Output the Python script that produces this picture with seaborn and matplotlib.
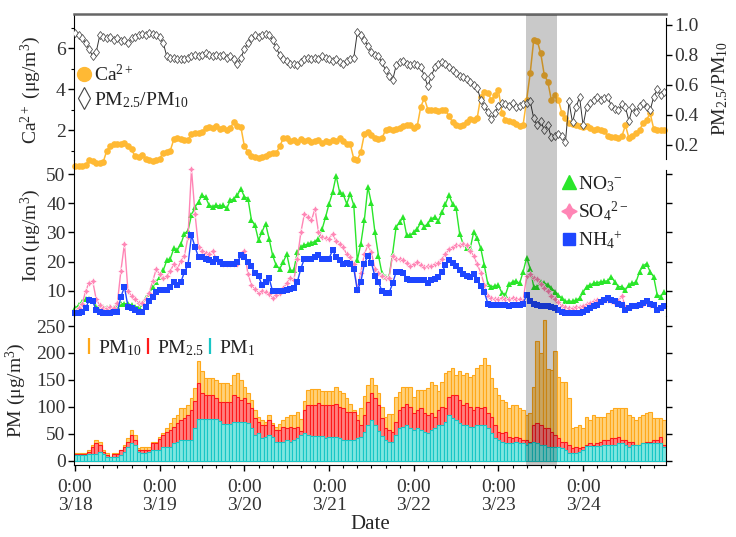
import numpy as np
import pandas as pd
import matplotlib.pyplot as plt
import matplotlib.patches as mpatches
import matplotlib.transforms as mtransforms
from matplotlib.lines import Line2D
import seaborn as sns

# ---------------- data (hourly, 3/18 0:00 .. 3/24 23:00) ----------------
days = ["3/18", "3/19", "3/20", "3/21", "3/22", "3/23", "3/24"]
hours = np.arange(168)
haze = (127.9, 136.6)  # shaded episode, in hours

ca = [0.26, 0.26, 0.26, 0.28, 0.54, 0.50, 0.40, 0.37, 0.45, 1.00, 1.20, 1.34, 1.30, 1.34, 1.36, 1.20, 1.05, 0.72, 0.70, 0.80, 0.60, 0.55, 0.50, 0.55,
      0.60, 0.90, 0.95, 1.00, 1.55, 1.60, 1.58, 1.50, 1.52, 1.80, 1.85, 1.83, 1.88, 2.10, 2.15, 2.12, 2.18, 2.05, 2.08, 2.00, 2.10, 2.39, 2.20, 2.15,
      1.20, 0.95, 0.75, 0.70, 0.65, 0.70, 0.75, 0.85, 0.90, 0.88, 1.20, 1.59, 1.60, 1.45, 1.50, 1.40, 1.55, 1.45, 1.50, 1.40, 1.45, 1.50, 1.35, 1.45,
      1.40, 1.50, 1.45, 1.59, 1.45, 1.34, 1.30, 0.60, 0.54, 0.94, 1.80, 1.90, 1.75, 1.60, 1.58, 1.60, 2.00, 2.05, 2.00, 2.05, 2.10, 2.20, 2.23, 2.25,
      2.10, 2.20, 3.14, 3.55, 3.00, 2.98, 3.00, 2.95, 3.00, 2.98, 2.66, 2.40, 2.25, 2.20, 2.25, 2.40, 2.56, 2.50, 2.60, 3.63, 3.87, 3.80, 3.47, 3.70,
      3.96, 2.82, 2.50, 2.45, 2.40, 2.30, 2.20, 2.25, 3.47, 4.76, 6.39, 6.35, 5.74, 4.68, 4.36, 3.47, 3.72, 3.47, 2.82, 2.60, 2.33, 2.30, 2.25, 2.20,
      2.15, 2.20, 2.10, 2.00, 2.05, 2.00, 1.95, 1.70, 1.65, 1.67, 1.60, 1.70, 2.23, 1.60, 1.70, 1.83, 2.00, 2.33, 2.50, 2.82, 2.07, 2.00, 2.00, 2.00]

ratio = [0.945, 0.93, 0.91, 0.88, 0.84, 0.79, 0.82, 0.93, 0.92, 0.91, 0.92, 0.90, 0.91, 0.89, 0.90, 0.88, 0.91, 0.92, 0.93, 0.94, 0.93, 0.945, 0.94, 0.93,
         0.92, 0.88, 0.79, 0.78, 0.78, 0.77, 0.77, 0.77, 0.78, 0.79, 0.80, 0.79, 0.80, 0.81, 0.80, 0.79, 0.80, 0.79, 0.80, 0.78, 0.79, 0.77, 0.74, 0.78,
         0.84, 0.88, 0.91, 0.93, 0.92, 0.93, 0.94, 0.93, 0.90, 0.85, 0.80, 0.77, 0.76, 0.74, 0.74, 0.73, 0.75, 0.77, 0.78, 0.77, 0.78, 0.77, 0.79, 0.78,
         0.77, 0.76, 0.77, 0.75, 0.74, 0.76, 0.77, 0.78, 0.95, 0.93, 0.90, 0.86, 0.82, 0.80, 0.79, 0.75, 0.70, 0.66, 0.63, 0.73, 0.75, 0.76, 0.74, 0.73,
         0.74, 0.73, 0.72, 0.66, 0.59, 0.66, 0.72, 0.74, 0.75, 0.74, 0.72, 0.70, 0.68, 0.66, 0.65, 0.64, 0.62, 0.60, 0.58, 0.50, 0.46, 0.42, 0.37, 0.41,
         0.46, 0.48, 0.47, 0.46, 0.48, 0.45, 0.46, 0.47, 0.48, 0.49, 0.38, 0.33, 0.36, 0.30, 0.33, 0.25, 0.26, 0.27, 0.26, 0.22, 0.49, 0.35, 0.45, 0.52,
         0.33, 0.45, 0.48, 0.50, 0.52, 0.50, 0.51, 0.52, 0.46, 0.44, 0.43, 0.47, 0.45, 0.36, 0.45, 0.42, 0.46, 0.48, 0.45, 0.43, 0.52, 0.57, 0.53, 0.55]

no3 = [4.0, 5.0, 6.0, 7.0, 7.3, 6.5, 4.5, 4.3, 4.4, 4.2, 4.3, 4.1, 4.6, 5.6, 5.5, 5.6, 5.0, 4.5, 4.4, 5.5, 7.5, 9.0, 11.3, 13.0,
       14.8, 17.0, 20.4, 21.0, 24.5, 24.0, 26.0, 29.6, 30.5, 35.9, 38.7, 40.5, 42.7, 42.0, 39.3, 38.8, 39.3, 39.0, 39.3, 38.2, 41.0, 41.5, 42.7, 45.0,
       42.2, 41.6, 34.2, 32.4, 27.3, 30.2, 33.0, 27.8, 22.1, 18.7, 17.5, 19.8, 22.6, 17.0, 17.0, 23.3, 25.0, 25.6, 26.0, 26.5, 26.8, 27.8, 31.0, 35.2,
       39.8, 43.7, 49.4, 43.7, 43.0, 39.8, 43.2, 39.3, 20.4, 26.1, 34.2, 45.6, 40.0, 30.0, 22.0, 15.9, 14.8, 14.8, 22.7, 31.8, 33.5, 35.2, 29.0, 29.0,
       30.0, 31.2, 33.5, 32.0, 33.0, 34.7, 35.2, 34.0, 36.9, 39.8, 42.7, 39.8, 38.2, 29.6, 26.0, 24.5, 24.5, 30.1, 28.0, 24.5, 18.7, 12.3, 11.4, 11.6,
       11.9, 9.2, 8.6, 12.3, 13.0, 13.4, 12.5, 16.5, 21.3, 17.6, 11.4, 11.4, 13.0, 12.6, 12.0, 10.9, 9.7, 8.5, 7.4, 6.3, 6.5, 6.3, 6.8, 7.4,
       9.5, 11.4, 12.0, 12.5, 12.8, 13.0, 13.2, 13.4, 14.8, 13.0, 11.4, 11.4, 10.3, 12.0, 12.5, 13.0, 16.5, 18.5, 19.3, 16.5, 14.8, 8.6, 8.0, 9.7]

so4 = [2.8, 4.0, 5.3, 9.9, 12.8, 13.3, 7.0, 5.0, 4.2, 4.2, 4.3, 4.2, 5.9, 16.9, 26.1, 9.9, 8.2, 7.0, 5.9, 5.9, 7.0, 9.3, 13.3, 17.3,
       15.6, 14.5, 15.0, 16.8, 19.1, 17.5, 20.2, 22.0, 28.3, 51.7, 36.3, 24.9, 23.7, 23.0, 22.6, 23.7, 20.9, 19.5, 19.2, 19.0, 19.2, 19.3, 19.2, 22.1,
       23.7, 15.7, 12.1, 10.5, 9.3, 9.9, 9.5, 8.7, 7.6, 8.5, 9.3, 11.0, 12.5, 14.5, 13.5, 20.9, 30.0, 36.3, 35.2, 34.1, 38.1, 30.1, 28.3, 28.0,
       27.8, 29.6, 27.0, 26.1, 24.9, 22.5, 21.5, 19.0, 10.4, 16.2, 22.6, 25.5, 23.2, 17.4, 16.0, 15.1, 14.5, 14.5, 22.0, 20.9, 20.9, 20.5, 19.5, 18.6,
       19.0, 19.7, 18.8, 18.0, 18.3, 18.6, 19.0, 19.5, 20.9, 22.5, 24.4, 25.0, 25.5, 25.8, 26.1, 25.5, 23.7, 22.0, 19.0, 16.2, 12.0, 8.2, 7.5, 7.3,
       7.3, 7.4, 7.2, 7.3, 7.5, 7.3, 7.2, 6.6, 15.1, 15.7, 14.5, 14.0, 12.2, 11.0, 10.0, 8.2, 7.0, 6.0, 4.8, 4.4, 4.2, 4.2, 4.3, 4.5,
       4.8, 5.3, 5.9, 6.3, 6.8, 6.8, 6.9, 6.8, 6.5, 5.9, 6.5, 8.3, 4.3, 4.5, 4.8, 5.0, 5.3, 5.6, 5.9, 5.2, 4.8, 3.7, 4.2, 4.8]

nh4 = [2.3, 2.5, 2.8, 4.0, 6.8, 6.3, 3.4, 2.8, 2.3, 2.3, 2.3, 2.6, 2.8, 7.9, 11.3, 4.5, 4.0, 3.5, 2.8, 2.8, 4.5, 6.3, 7.9, 9.7,
       10.2, 10.2, 10.2, 11.3, 13.0, 12.0, 13.0, 16.4, 18.7, 29.0, 25.0, 21.5, 21.5, 21.0, 20.4, 19.8, 21.0, 20.0, 19.0, 19.0, 19.2, 19.0, 19.8, 22.1,
       21.5, 20.0, 18.3, 16.0, 14.9, 12.0, 13.0, 14.3, 9.8, 10.0, 9.8, 10.0, 10.2, 10.5, 11.0, 13.0, 17.6, 21.0, 21.0, 21.0, 21.5, 22.1, 21.0, 21.0,
       21.0, 24.0, 21.5, 20.4, 19.2, 19.5, 19.2, 17.6, 10.2, 13.0, 19.2, 22.0, 19.5, 15.0, 13.0, 9.8, 9.2, 9.2, 12.5, 16.4, 16.4, 16.0, 14.1, 13.8,
       13.6, 13.6, 13.6, 13.6, 12.5, 13.6, 14.0, 14.7, 16.4, 18.7, 20.4, 19.5, 18.5, 17.0, 15.8, 15.0, 14.7, 15.8, 13.6, 11.5, 9.6, 5.6, 5.0, 5.0,
       5.0, 5.2, 5.0, 4.8, 5.0, 5.1, 5.0, 5.6, 8.5, 6.3, 5.6, 5.1, 4.8, 4.6, 4.6, 4.4, 4.0, 3.4, 2.8, 2.4, 2.3, 2.3, 2.3, 2.5,
       2.8, 3.4, 4.0, 4.6, 5.1, 6.0, 6.8, 7.4, 6.8, 6.3, 5.6, 5.1, 3.4, 4.0, 4.6, 4.8, 5.1, 5.7, 6.3, 5.6, 5.1, 3.4, 4.0, 4.6]

pm10 = [13.7, 13.7, 13.7, 13.7, 19.9, 29.2, 38.5, 35.4, 19.9, 13.7, 7.5, 13.7, 13.7, 19.9, 29.0, 41.6, 57.0, 47.7, 23.0, 26.0, 26.0, 26.0, 35.4, 35.4,
        44.7, 50.9, 60.2, 69.5, 78.8, 85.0, 97.4, 97.4, 103.6, 116.0, 134.6, 184.2, 165.6, 153.2, 153.0, 153.0, 150.0, 143.7, 143.7, 143.7, 140.6, 159.3, 162.4, 150.0,
        137.5, 125.0, 112.7, 94.2, 81.8, 75.5, 72.4, 84.8, 69.3, 63.1, 69.0, 75.0, 81.8, 85.0, 85.0, 90.0, 77.0, 110.0, 131.0, 134.0, 134.0, 134.0, 130.0, 130.0,
        130.0, 130.0, 137.0, 130.0, 125.0, 116.0, 105.0, 94.0, 85.0, 98.0, 121.0, 140.0, 153.0, 140.0, 125.0, 100.0, 82.0, 86.0, 86.0, 118.0, 128.0, 136.0, 136.0, 136.0,
        119.0, 131.0, 131.0, 131.0, 135.0, 147.0, 140.0, 130.0, 147.0, 162.0, 166.0, 172.0, 159.0, 166.0, 160.0, 162.0, 156.0, 160.0, 172.0, 178.0, 190.0, 178.0, 153.0, 135.0,
        122.0, 113.0, 109.0, 97.0, 104.0, 104.0, 97.0, 94.0, 85.0, 88.0, 137.0, 222.0, 199.0, 261.0, 170.0, 169.0, 203.0, 156.0, 147.0, 147.0, 116.0, 60.0, 63.0, 66.0,
        60.0, 82.0, 76.0, 85.0, 82.0, 82.0, 82.0, 88.0, 94.0, 97.0, 97.0, 97.0, 97.0, 85.0, 82.0, 76.0, 82.0, 85.0, 88.0, 91.0, 79.0, 79.0, 79.0, 75.0]

pm25 = [12.5, 12.5, 12.5, 12.5, 17.0, 26.0, 32.2, 29.1, 17.0, 10.6, 7.0, 12.5, 12.5, 19.9, 26.0, 35.4, 47.7, 38.0, 19.9, 19.9, 19.9, 19.9, 32.2, 32.2,
        40.0, 47.7, 53.9, 57.0, 63.2, 69.4, 75.5, 78.7, 84.0, 95.0, 110.0, 143.7, 125.0, 121.9, 121.9, 121.9, 115.6, 109.4, 109.4, 109.4, 109.4, 121.9, 118.7, 112.5,
        115.6, 106.5, 97.4, 78.8, 72.6, 66.4, 66.4, 75.5, 66.4, 57.0, 57.0, 63.2, 61.5, 63.0, 60.0, 63.2, 55.0, 94.0, 103.5, 103.5, 103.5, 107.0, 103.5, 103.5,
        103.5, 103.5, 105.0, 100.0, 97.4, 91.0, 91.0, 91.0, 75.5, 66.4, 85.0, 109.0, 125.0, 115.6, 103.2, 78.6, 60.0, 57.0, 54.0, 72.4, 94.2, 100.3, 106.0, 100.0,
        88.0, 94.0, 97.4, 88.0, 84.8, 88.0, 81.8, 94.2, 100.3, 97.4, 118.7, 121.9, 121.9, 112.5, 103.2, 106.5, 100.3, 94.2, 100.3, 97.4, 100.3, 88.0, 81.8, 66.4,
        53.9, 50.9, 53.9, 44.7, 41.6, 44.7, 41.6, 38.5, 38.5, 35.4, 66.4, 69.4, 66.4, 60.0, 60.0, 53.9, 47.7, 41.6, 35.4, 35.4, 29.2, 23.0, 26.0, 23.0,
        26.0, 29.2, 32.2, 29.2, 32.2, 35.4, 38.5, 38.5, 41.6, 41.6, 44.7, 38.5, 38.5, 35.4, 35.4, 29.2, 29.2, 32.2, 35.4, 35.4, 38.5, 38.5, 44.7, 29.2]

pm1 = [10.6, 10.6, 10.6, 10.6, 12.5, 12.5, 12.5, 16.6, 12.5, 7.5, 6.5, 7.5, 7.5, 10.6, 16.6, 26.0, 32.2, 29.1, 16.6, 15.0, 15.0, 16.6, 19.8, 19.8,
       19.8, 26.0, 26.0, 26.0, 32.2, 35.3, 38.5, 38.5, 38.5, 38.5, 60.2, 77.0, 77.0, 77.0, 77.0, 77.0, 77.0, 74.4, 69.0, 69.0, 69.0, 72.4, 72.4, 72.4,
       72.4, 69.3, 60.2, 47.7, 50.8, 41.6, 44.7, 47.7, 44.7, 35.4, 35.4, 35.4, 38.5, 35.4, 38.5, 41.6, 47.7, 50.8, 47.7, 46.0, 46.0, 46.0, 46.0, 41.6,
       44.7, 44.7, 44.7, 42.7, 38.5, 38.5, 38.5, 38.5, 41.6, 44.7, 54.0, 66.4, 75.7, 66.0, 55.0, 45.0, 38.5, 35.3, 35.3, 47.6, 60.0, 63.0, 66.0, 60.0,
       57.0, 60.0, 57.0, 54.0, 51.0, 57.0, 60.0, 66.4, 66.4, 72.6, 84.5, 78.8, 75.5, 69.4, 66.4, 66.4, 63.3, 63.3, 66.4, 66.4, 66.4, 60.2, 51.0, 41.6,
       38.5, 35.4, 33.5, 33.5, 33.5, 35.4, 32.2, 32.2, 29.2, 32.2, 35.4, 32.2, 29.2, 29.2, 26.0, 26.0, 26.0, 26.0, 23.0, 19.9, 15.0, 15.0, 15.0, 16.6,
       19.9, 27.6, 27.6, 27.6, 27.6, 27.6, 29.2, 29.2, 29.2, 29.2, 32.2, 32.2, 29.2, 26.0, 29.2, 29.2, 29.2, 32.2, 32.2, 33.5, 33.5, 33.5, 33.5, 26.0]

df = pd.DataFrame({"hour": hours, "ca": ca, "ratio": ratio, "no3": no3, "so4": so4,
                   "nh4": nh4, "pm10": pm10, "pm25": pm25, "pm1": pm1})

# ---------------- style ----------------
sns.set_style("ticks")
plt.rcParams["font.family"] = ["Liberation Serif", "DejaVu Serif"]
plt.rcParams["mathtext.fontset"] = "custom"
plt.rcParams["mathtext.rm"] = "Liberation Serif"
plt.rcParams["mathtext.it"] = "Liberation Serif:italic"
plt.rcParams["mathtext.bf"] = "Liberation Serif:bold"
plt.rcParams["axes.edgecolor"] = "black"
plt.rcParams["text.color"] = "#222222"
plt.rcParams["xtick.color"] = "black"
plt.rcParams["ytick.color"] = "black"
plt.rcParams["xtick.labelcolor"] = "#333333"
plt.rcParams["ytick.labelcolor"] = "#333333"

orange = "#FFB934"
green = "#2AE62A"
pink = "#FF85B5"
blue = "#1E46FF"

W, H = 736, 537
fig = plt.figure(figsize=(W / 100, H / 100), dpi=100)


def box(top, bottom):
    return [74 / W, 1 - bottom / H, 592 / W, (bottom - top) / H]


ax1 = fig.add_axes(box(14, 160))
ax2 = fig.add_axes(box(160, 316))
ax3 = fig.add_axes(box(316, 465))
for ax in (ax1, ax2, ax3):
    ax.patch.set_visible(False)

# -------------------------------
# Top: Ca2+ and PM2.5/PM10
# -------------------------------
sns.lineplot(data=df, x="hour", y="ca", ax=ax1, color=orange, marker="o",
             markersize=4.8, markeredgewidth=0, linewidth=1.1, legend=False)
ax1r = ax1.twinx()
ax1r.patch.set_visible(False)
sns.lineplot(data=df, x="hour", y="ratio", ax=ax1r, color="#333333", marker="d",
             markersize=4.5, markerfacecolor="white", markeredgecolor="#444444",
             markeredgewidth=0.55, linewidth=0.7, legend=False)

ax1.set_ylim(0.537, 7.66)
ax1.set_yticks([2, 4, 6])
ax1.set_yticks([1, 3, 5, 7], minor=True)
ax1r.set_ylim(0.1, 1.073)
ax1r.set_yticks([0.2, 0.4, 0.6, 0.8, 1.0])
ax1r.set_yticklabels(["0.2", "0.4", "0.6", "0.8", "1.0"])

for s in ("right", "bottom"):
    ax1.spines[s].set_visible(False)
ax1.spines["top"].set_color("#666666")
ax1.spines["top"].set_linewidth(1.8)
for s in ("left", "top", "bottom"):
    ax1r.spines[s].set_visible(False)
ax1r.spines["right"].set_bounds(0.107, 1.047)

ax1.set_ylabel("Ca$^{2+}$ (μg/m$^{3}$)", fontsize=14)
ax1.yaxis.set_label_coords(-0.052, 0.48)
ax1r.set_ylabel("PM$_{2.5}$/PM$_{10}$", fontsize=14)
ax1r.yaxis.set_label_coords(1.075, 0.49)

# -------------------------------
# Middle: ions
# -------------------------------
sns.lineplot(data=df, x="hour", y="no3", ax=ax2, color=green, marker="^",
             markersize=5, markeredgewidth=0, linewidth=1, legend=False)
sns.lineplot(data=df, x="hour", y="so4", ax=ax2, color=pink, marker=(4, 1, 0),
             markersize=5.5, markeredgewidth=0.4, linewidth=1, legend=False)
sns.lineplot(data=df, x="hour", y="nh4", ax=ax2, color=blue, marker="s",
             markersize=3.8, markeredgewidth=0, linewidth=1, legend=False)

ax2.set_ylim(1.33, 54.8)
ax2.set_yticks([10, 20, 30, 40, 50])
for s in ("top", "bottom"):
    ax2.spines[s].set_visible(False)
ax2.spines["right"].set_bounds(1.33, 51.4)
ax2.tick_params(axis="y", right=True, labelright=False)
ax2.set_ylabel("Ion (μg/m$^{3}$)", fontsize=14)
ax2.yaxis.set_label_coords(-0.052, 0.52)

# -------------------------------
# Bottom: PM bars
# -------------------------------
for col, face, edge in [("pm10", "#FFD27A", "#FFA81A"),
                        ("pm25", "#FF8080", "#FF1A1A"),
                        ("pm1", "#80E6E0", "#18C6C6")]:
    sns.barplot(data=df, x="hour", y=col, ax=ax3, native_scale=True, width=1,
                color=face, saturation=1, edgecolor=edge, linewidth=0.8,
                errorbar=None, legend=False)

ax3.set_ylim(-8, 268.6)
ax3.set_yticks([0, 50, 100, 150, 200, 250])
ax3.spines["top"].set_visible(False)
ax3.tick_params(axis="y", right=True, labelright=False)
ax3.set_ylabel("PM (μg/m$^{3}$)", fontsize=14)
ax3.yaxis.set_label_coords(-0.078, 0.5)

# shared x axis
for ax in (ax1, ax1r, ax2, ax3):
    ax.set_xlim(-0.3, 167.5)
ax3.set_xticks(np.arange(0, 168, 24))
ax3.set_xticklabels([f"0:00\n{d}" for d in days], linespacing=1.05)
ax3.set_xticks(np.arange(0, 168, 4), minor=True)
ax3.set_xlabel("Date", fontsize=15, labelpad=1)
for ax in (ax1, ax1r, ax2):
    ax.set_xlabel("")
    ax.tick_params(axis="x", which="both", bottom=False, top=False, labelbottom=False)
ax1r.set_xticks([])

for ax in (ax1, ax1r, ax2, ax3):
    ax.tick_params(which="major", direction="out", length=4, width=1, labelsize=14, pad=2)
    ax.tick_params(which="minor", direction="out", length=2.5, width=0.8)
ax3.tick_params(axis="x", which="major", pad=6)

# clip off lines so markers can slide a bit past the panel edges
for ax in (ax1, ax2):
    for ln in ax.lines:
        ln.set_clip_on(False)

# shaded episode across all panels
trans = mtransforms.blended_transform_factory(ax3.transData, fig.transFigure)
band = mpatches.Rectangle((haze[0], 1 - 465 / H), haze[1] - haze[0], (465 - 15) / H,
                          transform=trans, facecolor="black", alpha=0.21,
                          edgecolor="none", zorder=5)
fig.add_artist(band)

# -------------------------------
# Legends
# -------------------------------
h_ca = Line2D([], [], ls="none", marker="o", ms=10, color=orange)
h_rt = Line2D([], [], ls="none", marker="d", ms=11, mfc="white", mec="#444444", mew=0.8)
fig.legend([h_ca, h_rt], ["Ca$^{2+}$", "PM$_{2.5}$/PM$_{10}$"], loc="upper left",
           bbox_to_anchor=(77 / W, 1 - 64 / H), frameon=False, fontsize=14,
           handlelength=0.7, handletextpad=0.15, labelspacing=0.25,
           borderpad=0, borderaxespad=0)

h_no3 = Line2D([], [], ls="none", marker="^", ms=10, color=green)
h_so4 = Line2D([], [], ls="none", marker=(4, 1, 0), ms=11, color=pink)
h_nh4 = Line2D([], [], ls="none", marker="s", ms=9, color=blue)
fig.legend([h_no3, h_so4, h_nh4], ["NO$_{3}$$^{-}$", "SO$_{4}$$^{2-}$", "NH$_{4}$$^{+}$"],
           loc="upper left", bbox_to_anchor=(560 / W, 1 - 172 / H), frameon=True,
           facecolor="white", edgecolor="none", framealpha=1, fontsize=14,
           handlelength=0.7, handletextpad=0.15, labelspacing=0.3,
           borderpad=0.1, borderaxespad=0, fancybox=False)

h_p10 = Line2D([], [], ls="none", marker="|", ms=11, mew=1.6, color="#FFA81A")
h_p25 = Line2D([], [], ls="none", marker="|", ms=11, mew=1.6, color="#FF1A1A")
h_p1 = Line2D([], [], ls="none", marker="|", ms=11, mew=1.6, color="#18C6C6")
fig.legend([h_p10, h_p25, h_p1], ["PM$_{10}$", "PM$_{2.5}$", "PM$_{1}$"], ncol=3,
           loc="center left", bbox_to_anchor=(84 / W, 1 - 348 / H), frameon=False,
           fontsize=14, handlelength=0.5, handletextpad=0.2, columnspacing=0.1,
           borderpad=0, borderaxespad=0)

fig.savefig("out.png", dpi=100)
